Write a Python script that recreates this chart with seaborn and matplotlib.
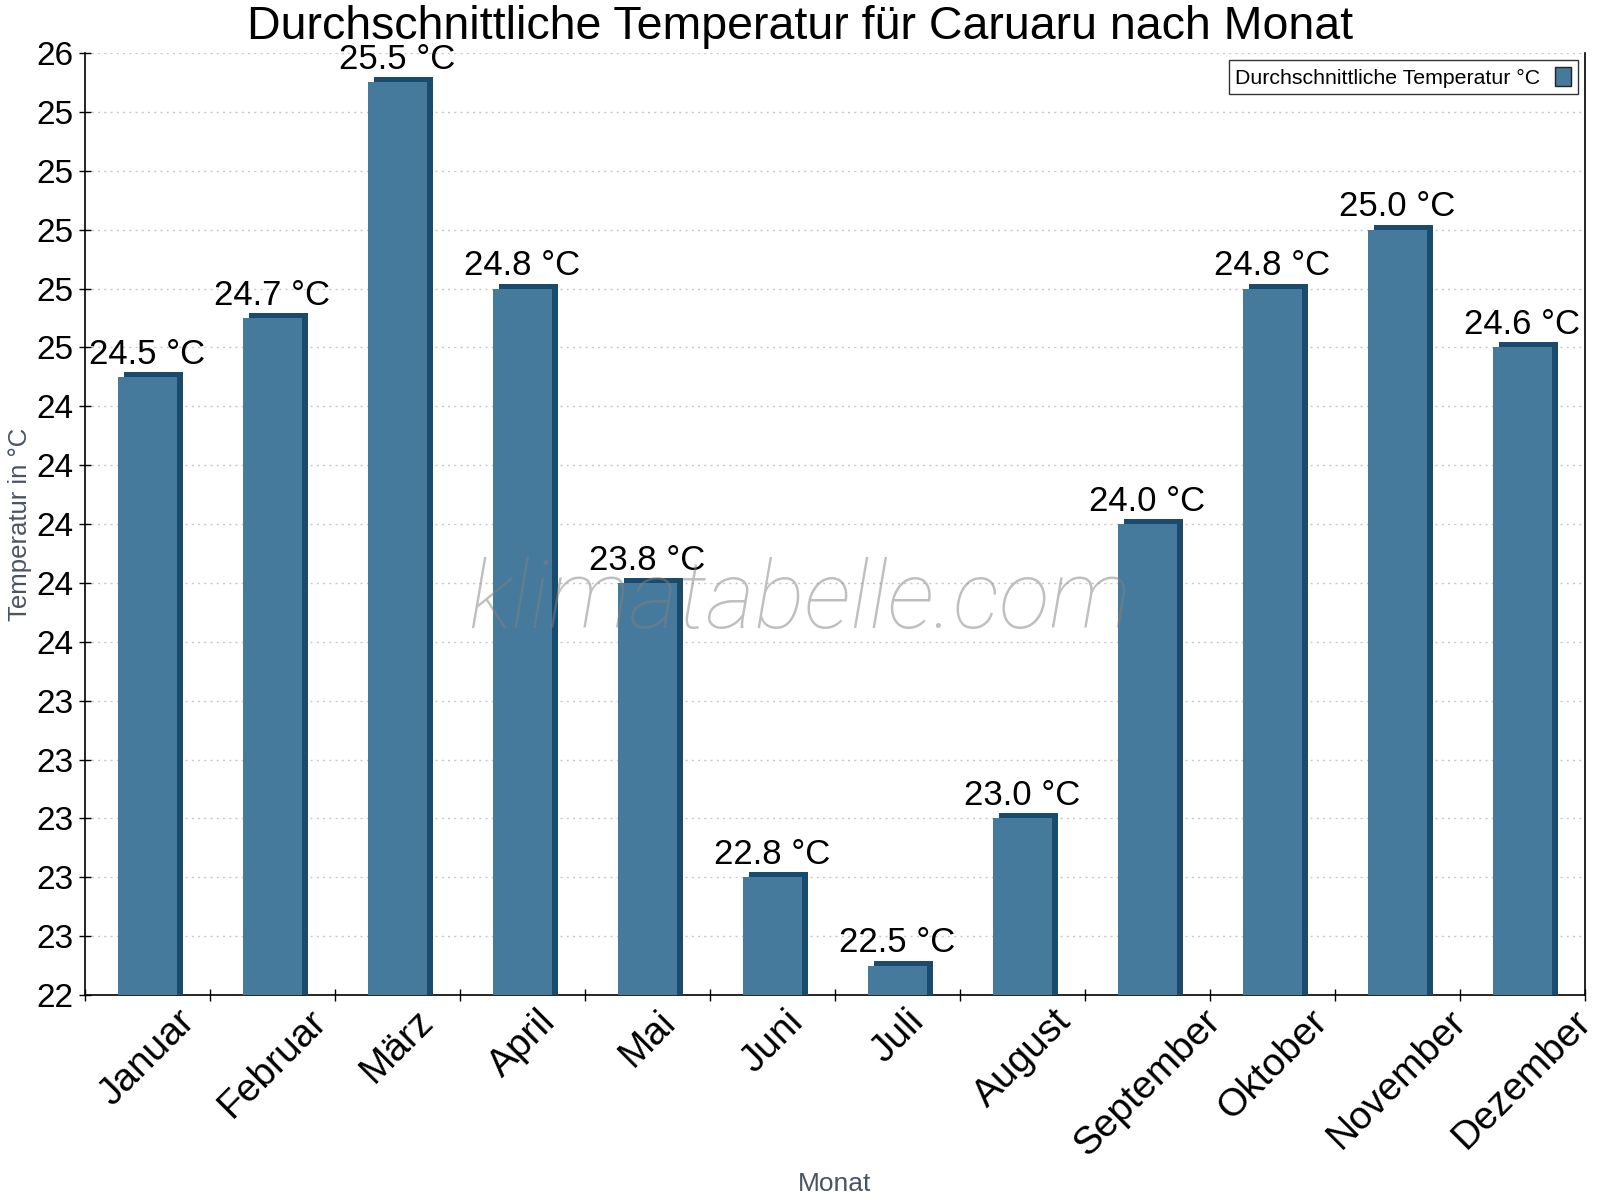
import numpy as np
import matplotlib
matplotlib.use("Agg")
import matplotlib.pyplot as plt
import matplotlib.patheffects as pe
from matplotlib.patches import Patch
from matplotlib.ticker import FormatStrFormatter, FixedLocator
import seaborn as sns

# Data
months = ["Januar", "Februar", "März", "April", "Mai", "Juni",
          "Juli", "August", "September", "Oktober", "November", "Dezember"]
temps = [24.5, 24.7, 25.5, 24.8, 23.8, 22.8, 22.5, 23.0, 24.0, 24.8, 25.0, 24.6]
series_label = "Durchschnittliche Temperatur °C"

BAR_COLOR = "#467a9c"
DARK_COLOR = "#1a4a6c"

sns.set_theme(style="white")
plt.rcParams['font.family'] = ['Liberation Sans', 'DejaVu Sans']
plt.rcParams['text.color'] = 'black'
plt.rcParams['xtick.color'] = 'black'
plt.rcParams['ytick.color'] = 'black'

fig, ax = plt.subplots(figsize=(16, 12), dpi=100)
fig.subplots_adjust(left=85 / 1600, right=1585 / 1600, top=1 - 53 / 1200, bottom=1 - 995 / 1200)

sns.barplot(x=months, y=temps, color=BAR_COLOR, saturation=1, width=0.47, ax=ax, zorder=3)

# pseudo 3D depth on top and right side
for bar in ax.patches:
    bar.set_linewidth(0)
    bar.set_path_effects([
        pe.SimplePatchShadow(offset=(4.3, 3.6), shadow_rgbFace=DARK_COLOR, alpha=1.0),
        pe.Normal(),
    ])

ax.set_ylim(22.4, 25.6)
ax.set_xlim(-0.5, len(months) - 0.5)
ax.yaxis.set_major_locator(FixedLocator(np.arange(22.4, 25.61, 0.2)))
ax.yaxis.set_major_formatter(FormatStrFormatter('%.0f'))

# value labels
for cont in ax.containers:
    ax.bar_label(cont, labels=[f"{v:.1f} °C" for v in temps], padding=4.5, fontsize=25, color="black")

# grid and spines
ax.yaxis.grid(True, linestyle=(0, (1.5, 3)), color="#c8c8c8", linewidth=1, zorder=0)
ax.xaxis.grid(False)
for side in ["left", "bottom", "right"]:
    ax.spines[side].set_visible(True)
    ax.spines[side].set_color("black")
    ax.spines[side].set_linewidth(1.2)
ax.spines["top"].set_visible(False)

# ticks
ax.tick_params(axis="y", which="major", direction="inout", length=9, width=1, labelsize=24,
               pad=4, left=True)
ax.set_xticks(np.arange(len(months)))
ax.set_xticklabels(months, rotation=45, ha="center", fontsize=28)
ax.set_xticks(np.arange(-0.5, len(months)), minor=True)
ax.tick_params(axis="x", which="major", length=0, pad=6)
ax.tick_params(axis="x", which="minor", direction="inout", length=9, width=1, bottom=True)

# axis labels
ax.set_xlabel("Monat", fontsize=19, color="#4a5562")
ax.xaxis.set_label_coords(0.5, -0.188)
ax.set_ylabel("Temperatur in °C", fontsize=18.5, color="#4a5562", labelpad=3)

# legend
handle = Patch(facecolor=BAR_COLOR, edgecolor="#222222", linewidth=1)
leg = ax.legend([handle], [series_label], loc="upper right", fontsize=15.3, frameon=True,
                fancybox=False, markerfirst=False, handlelength=0.75, handleheight=1.0,
                borderaxespad=0.35, borderpad=0.3, handletextpad=0.7)
leg.get_frame().set_edgecolor("black")
leg.get_frame().set_linewidth(1)

# title and watermark
fig.suptitle("Durchschnittliche Temperatur für Caruaru nach Monat", fontsize=33.5, x=0.5, y=0.996)
fig.text(0.5, 0.498, "klimatabelle.com", fontsize=67.5, family=["Roboto", "DejaVu Sans"],
         fontweight="light", style="italic", color="#808080", alpha=0.5,
         ha="center", va="center", zorder=10)

fig.savefig("out.png", dpi=100)
